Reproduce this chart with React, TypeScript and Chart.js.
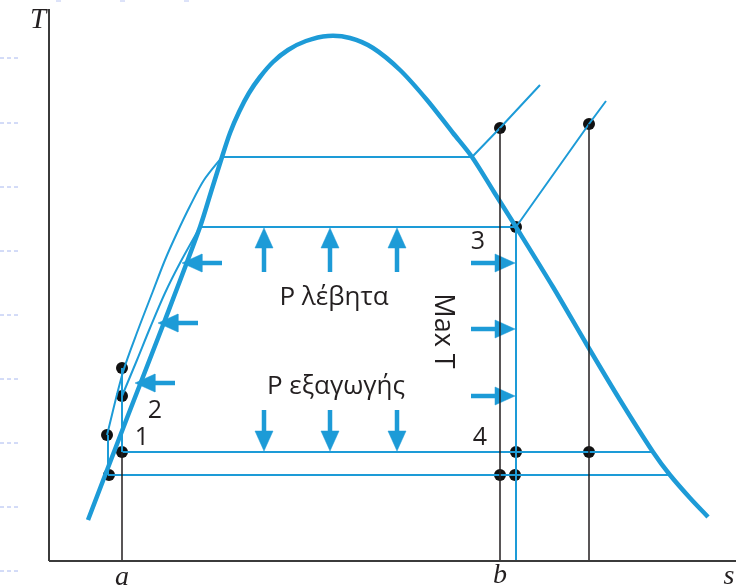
import { useEffect, useRef } from "react";
import { Chart, registerables } from "chart.js";

Chart.register(...registerables);

// A point of the diagram: [s, T] in diagram units, origin at the axes' corner.
type Pt = [number, number];

const BLUE = "#1d9bd7";
const INK = "#231f20";

// Saturation dome (saturated liquid on the left, saturated vapour on the right)
const saturationDome: Pt[] = [
  [39, 41], [78, 143], [116, 241], [151, 334], [162, 369], [173, 404],
  [181, 428], [190, 449], [200, 468], [211, 484], [224, 499], [239, 511],
  [257, 520], [279, 525], [301, 523], [324, 513], [351, 491],
  [378, 461], [404, 428], [423, 404], [445, 369], [467, 334], [504, 274],
  [538, 216], [571, 161], [604, 109], [621, 86], [641, 63], [659, 44],
];

// Compressed-liquid lines leading up to the saturated-liquid line
const liquidLineHigh: Pt[] = [
  [58, 126], [74, 189], [89, 231], [104, 270], [116, 301], [128, 328],
  [141, 355], [155, 381], [173, 404],
];
const liquidLineBoiler: Pt[] = [
  [73, 165], [88, 201], [101, 233], [116, 268], [131, 298], [151, 334],
];

// Constant-pressure lines in the wet region and the superheat region
const boilingHigh: Pt[] = [[173, 404], [423, 404]];
const superheatHigh: Pt[] = [[423, 404], [451, 433], [491, 476]];
const boilingBoiler: Pt[] = [[151, 334], [467, 334]];
const superheatBoiler: Pt[] = [[467, 334], [540, 437], [557, 460]];
const condensingHigh: Pt[] = [[73, 109], [604, 109]];
const condensingLow: Pt[] = [[59, 86], [621, 86]];

// Isentropic steps
const expansion3to4: Pt[] = [[467, 334], [467, 0]];
const pump1to2: Pt[] = [[73, 193], [73, 109]];
const pumpLow: Pt[] = [[59, 126], [59, 86]];

// Reference entropies a, b and the superheated expansion
const entropyA: Pt[] = [[73, 109], [73, 0]];
const entropyB: Pt[] = [[451, 433], [451, 0]];
const entropyC: Pt[] = [[540, 437], [540, 0]];

// State points
const statePoints: Pt[] = [
  [73, 193], [73, 165], [58, 126], [73, 109], [60, 86],
  [451, 433], [540, 437], [467, 334], [467, 109], [540, 109],
  [451, 86], [466, 86],
];

// Arrows as [tail, tip]
const boilerArrows: [Pt, Pt][] = [
  [[215, 289], [215, 333]], [[281, 289], [281, 333]], [[348, 289], [348, 333]],
];
const exhaustArrows: [Pt, Pt][] = [
  [[215, 151], [215, 110]], [[281, 151], [281, 110]], [[348, 151], [348, 110]],
];
const liquidArrows: [Pt, Pt][] = [
  [[173, 298], [133, 298]], [[149, 238], [109, 238]], [[126, 178], [86, 178]],
];
const maxTArrows: [Pt, Pt][] = [
  [[422, 298], [466, 298]], [[422, 232], [466, 232]], [[422, 165], [466, 165]],
];

// Axes
const sAxis: Pt[] = [[0, 0], [687, 0]];
const tAxis: Pt[] = [[0, 0], [0, 552]];

// Faint dashed guides along the left edge
const guideLevels = [503, 438, 374, 310, 246, 182, 118, 54, -10];
const guideFrom = -49;
const guideTo = -31;
const topTicks = [7, 71, 135];

type Label = { text: string; s: number; T: number; font: string; rotate?: number };
const SANS = "'Open Sans', 'Noto Sans', sans-serif";
const SERIF = "'Liberation Serif', 'DejaVu Serif', serif";
const labels: Label[] = [
  { text: "P λέβητα", s: 285, T: 263, font: `26px ${SANS}` },
  { text: "P εξαγωγής", s: 287, T: 174, font: `26px ${SANS}` },
  { text: "Max T", s: 394, T: 230, font: `27px ${SANS}`, rotate: 90 },
  { text: "3", s: 429, T: 319, font: `25px ${SANS}` },
  { text: "4", s: 431, T: 123, font: `25px ${SANS}` },
  { text: "1", s: 93, T: 123, font: `25px ${SANS}` },
  { text: "2", s: 106, T: 150, font: `25px ${SANS}` },
  { text: "T", s: -11, T: 541, font: `italic 29px ${SERIF}` },
  { text: "a", s: 73, T: -17, font: `italic 28px ${SERIF}` },
  { text: "b", s: 451, T: -15, font: `italic 28px ${SERIF}` },
  { text: "s", s: 680, T: -16, font: `italic 28px ${SERIF}` },
];

const HEAD_LEN = 20;
const HEAD_HALF = 9;

const toXY = (pts: Pt[]) => pts.map(([x, y]) => ({ x, y }));

function line(pts: Pt[], color: string, width: number, extra: Record<string, unknown> = {}) {
  return {
    data: toXY(pts),
    showLine: true,
    borderColor: color,
    backgroundColor: color,
    borderWidth: width,
    pointRadius: 0,
    tension: 0,
    fill: false,
    clip: false,
    ...extra,
  };
}

function arrow([tail, tip]: [Pt, Pt]) {
  const dx = tip[0] - tail[0];
  const dy = tip[1] - tail[1];
  const len = Math.hypot(dx, dy);
  const ux = dx / len;
  const uy = dy / len;
  const base: Pt = [tip[0] - ux * HEAD_LEN, tip[1] - uy * HEAD_LEN];
  const nx = -uy;
  const ny = ux;
  const shaftEnd: Pt = [base[0] + ux * 2, base[1] + uy * 2];
  const left: Pt = [base[0] + nx * HEAD_HALF, base[1] + ny * HEAD_HALF];
  const right: Pt = [base[0] - nx * HEAD_HALF, base[1] - ny * HEAD_HALF];
  return [
    line([tail, shaftEnd], BLUE, 4.5),
    line([left, tip, right, left], BLUE, 0.5, { fill: "shape" }),
  ];
}

const labelPlugin = {
  id: "diagramLabels",
  afterDatasetsDraw(chart: Chart) {
    const { ctx } = chart;
    const xs = chart.scales.x;
    const ys = chart.scales.y;
    ctx.save();
    ctx.fillStyle = INK;
    ctx.textAlign = "center";
    ctx.textBaseline = "middle";
    for (const l of labels) {
      ctx.save();
      ctx.font = l.font;
      ctx.translate(xs.getPixelForValue(l.s), ys.getPixelForValue(l.T));
      if (l.rotate) ctx.rotate((l.rotate * Math.PI) / 180);
      ctx.fillText(l.text, 0, 0);
      ctx.restore();
    }
    ctx.restore();
  },
};

export default function App() {
  const ref = useRef<HTMLCanvasElement | null>(null);

  useEffect(() => {
    if (!ref.current) return;
    const datasets: any[] = [];

    for (const T of guideLevels) {
      datasets.push(line([[guideFrom, T], [guideTo, T]], "rgba(140,160,235,0.75)", 1, { borderDash: [4, 3] }));
    }
    for (const s of topTicks) {
      datasets.push(line([[s, 560], [s + 5, 560]], "rgba(140,160,235,0.6)", 1));
    }

    datasets.push(line(tAxis, "#3b3b3b", 2));
    datasets.push(line(sAxis, "#3b3b3b", 2));

    for (const seg of [entropyA, entropyB, entropyC]) datasets.push(line(seg, INK, 1.5));

    for (const seg of [
      boilingHigh, superheatHigh, boilingBoiler, superheatBoiler,
      condensingHigh, condensingLow, expansion3to4, pump1to2, pumpLow,
    ]) datasets.push(line(seg, BLUE, 2));

    datasets.push(line(liquidLineHigh, BLUE, 2, { tension: 0.3 }));
    datasets.push(line(liquidLineBoiler, BLUE, 2, { tension: 0.3 }));
    datasets.push(line(saturationDome, BLUE, 4.5, { tension: 0.3 }));

    for (const a of [...boilerArrows, ...exhaustArrows, ...liquidArrows, ...maxTArrows]) {
      datasets.push(...arrow(a));
    }

    datasets.push({
      data: toXY(statePoints),
      showLine: false,
      pointRadius: 6,
      pointBackgroundColor: "#111",
      pointBorderWidth: 0,
      clip: false,
    });

    const chart = new Chart(ref.current, {
      type: "scatter",
      data: { datasets },
      options: {
        animation: false,
        responsive: false,
        devicePixelRatio: 1,
        events: [],
        layout: { padding: 0, autoPadding: false },
        plugins: { legend: { display: false }, tooltip: { enabled: false } },
        scales: {
          x: { type: "linear", display: false, min: -49, max: 687 },
          y: { type: "linear", display: false, min: -27, max: 561 },
        },
      },
      plugins: [labelPlugin],
    });
    return () => chart.destroy();
  }, []);

  return (
    <div style={{ position: "absolute", left: 0, top: 0, width: 736, height: 588, background: "#fff" }}>
      <canvas ref={ref} width={736} height={588} />
    </div>
  );
}
